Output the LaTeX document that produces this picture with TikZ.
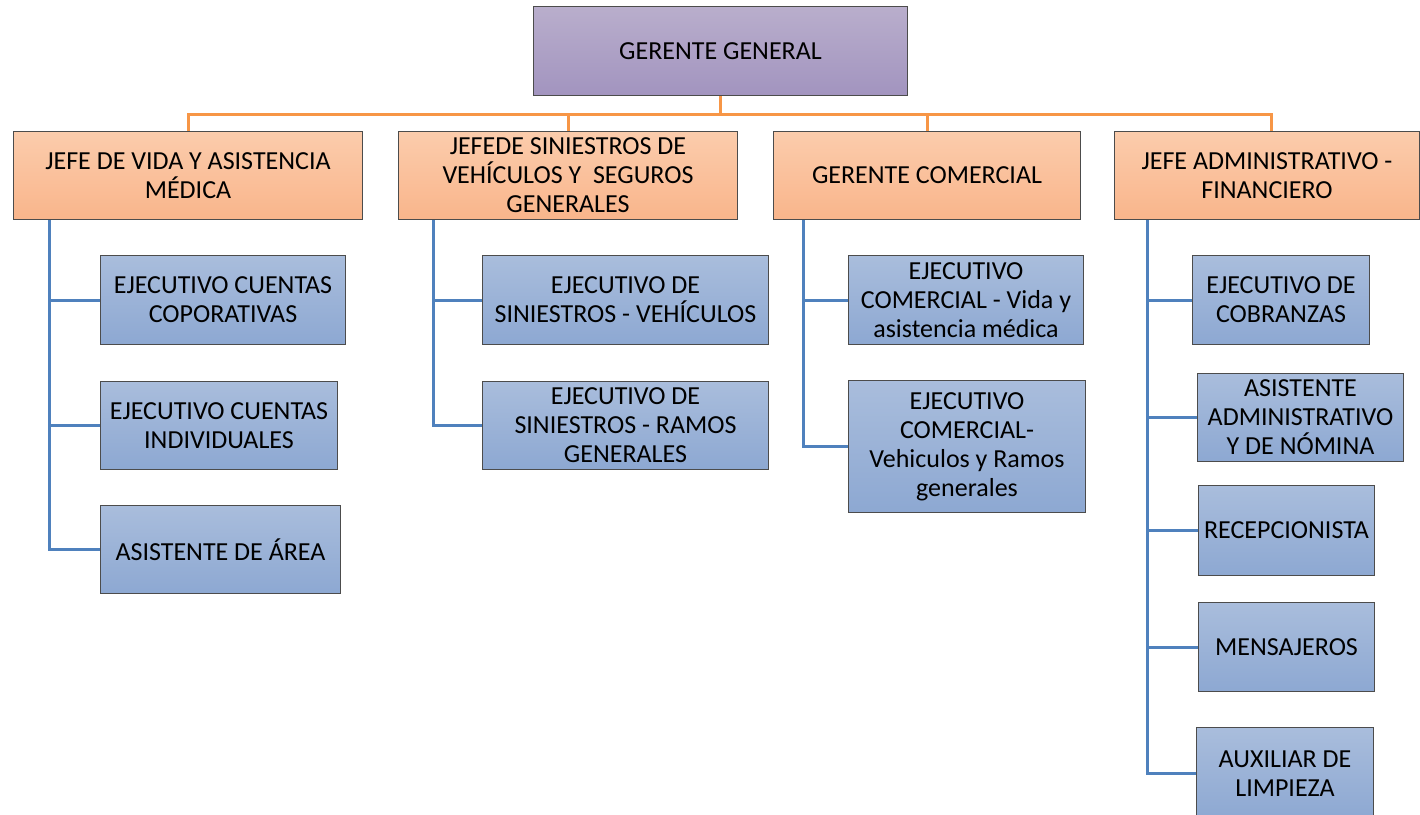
\documentclass[tikz,border=0pt]{standalone}
\usepackage{fontspec}
\setmainfont{Carlito}
\begin{document}
\begin{tikzpicture}[x=1pt,y=-1pt,
  base/.style={draw=black!70, line width=1pt, anchor=north west, inner sep=0pt, align=center,
    font=\fontsize{26}{29}\selectfont, text=black},
  topbox/.style={base, top color=purpleT, bottom color=purpleB},
  midbox/.style={base, top color=orangeT, bottom color=orangeB},
  lowbox/.style={base, top color=blueT, bottom color=blueB},
  oline/.style={draw=lineorange, line width=3pt},
  bline/.style={draw=lineblue, line width=3pt}]
\definecolor{purpleT}{HTML}{B9AECC}
\definecolor{purpleB}{HTML}{A294BF}
\definecolor{orangeT}{HTML}{FBCCAC}
\definecolor{orangeB}{HTML}{F9B58B}
\definecolor{blueT}{HTML}{A9BDDC}
\definecolor{blueB}{HTML}{8DA8D2}
\definecolor{lineorange}{HTML}{F79646}
\definecolor{lineblue}{HTML}{4F81BD}
\useasboundingbox (0,0) rectangle (1420,814);
% orange connectors (drawn first, under boxes)
\node[topbox, minimum width=374pt, minimum height=89pt] (gg) at (533,6) {GERENTE GENERAL};
\node[midbox, minimum width=349pt, minimum height=88pt] (j1) at (13,131) {JEFE DE VIDA Y ASISTENCIA\\MÉDICA};
\node[midbox, minimum width=339pt, minimum height=88pt] (j2) at (398,131) {JEFEDE SINIESTROS DE\\VEHÍCULOS Y\ \ SEGUROS\\GENERALES};
\node[midbox, minimum width=307pt, minimum height=88pt] (j3) at (773,131) {GERENTE COMERCIAL};
\node[midbox, minimum width=305pt, minimum height=88pt] (j4) at (1114,131) {JEFE ADMINISTRATIVO -\\FINANCIERO};
% column 1
\node[lowbox, minimum width=245pt, minimum height=89pt] (a1) at (100,255) {EJECUTIVO CUENTAS\\COPORATIVAS};
\node[lowbox, minimum width=237pt, minimum height=88pt] (a2) at (100,381) {EJECUTIVO CUENTAS\\INDIVIDUALES};
\node[lowbox, minimum width=240pt, minimum height=88pt] (a3) at (100,505) {ASISTENTE DE ÁREA};
% column 2
\node[lowbox, minimum width=286pt, minimum height=89pt] (b1) at (482,255) {EJECUTIVO DE\\SINIESTROS - VEHÍCULOS};
\node[lowbox, minimum width=286pt, minimum height=88pt] (b2) at (482,381) {EJECUTIVO DE\\SINIESTROS - RAMOS\\GENERALES};
% column 3
\node[lowbox, minimum width=235pt, minimum height=89pt] (c1) at (848,255) {EJECUTIVO\\COMERCIAL - Vida y\\asistencia médica};
\node[lowbox, minimum width=237pt, minimum height=132pt] (c2) at (848,380) {EJECUTIVO\\COMERCIAL-\\Vehiculos y Ramos\\generales};
% column 4
\node[lowbox, minimum width=177pt, minimum height=89pt] (d1) at (1192,255) {EJECUTIVO DE\\COBRANZAS};
\node[lowbox, minimum width=206pt, minimum height=88pt] (d2) at (1197,373) {ASISTENTE\\ADMINISTRATIVO\\Y DE NÓMINA};
\node[lowbox, minimum width=176pt, minimum height=90pt] (d3) at (1198,485) {RECEPCIONISTA};
\node[lowbox, minimum width=176pt, minimum height=89pt] (d4) at (1198,602) {MENSAJEROS};
\node[lowbox, minimum width=177pt, minimum height=92pt] (d5) at (1196,727) {AUXILIAR DE\\LIMPIEZA};
% orange connectors
\path (gg.south) ++(0,18) coordinate (bus);
\draw[oline] (gg.south) -- (bus);
\draw[oline] (bus) -| (j1.north);
\draw[oline] (bus) -| (j2.north);
\draw[oline] (bus) -| (j3.north);
\draw[oline] (bus) -| ([xshift=4pt]j4.north);
% blue connectors
\coordinate (s1) at ([xshift=36pt]j1.south west);
\coordinate (s2) at ([xshift=35pt]j2.south west);
\coordinate (s3) at ([xshift=30pt]j3.south west);
\coordinate (s4) at ([xshift=33pt]j4.south west);
\draw[bline] (s1) |- (a1.west);
\draw[bline] (s1) |- (a2.west);
\draw[bline] (s1) |- (a3.west);
\draw[bline] (s2) |- (b1.west);
\draw[bline] (s2) |- (b2.west);
\draw[bline] (s3) |- (c1.west);
\draw[bline] (s3) |- (c2.west);
\draw[bline] (s4) |- (d1.west);
\draw[bline] (s4) |- (d2.west);
\draw[bline] (s4) |- (d3.west);
\draw[bline] (s4) |- (d4.west);
\draw[bline] (s4) |- (d5.west);
\end{tikzpicture}
\end{document}
